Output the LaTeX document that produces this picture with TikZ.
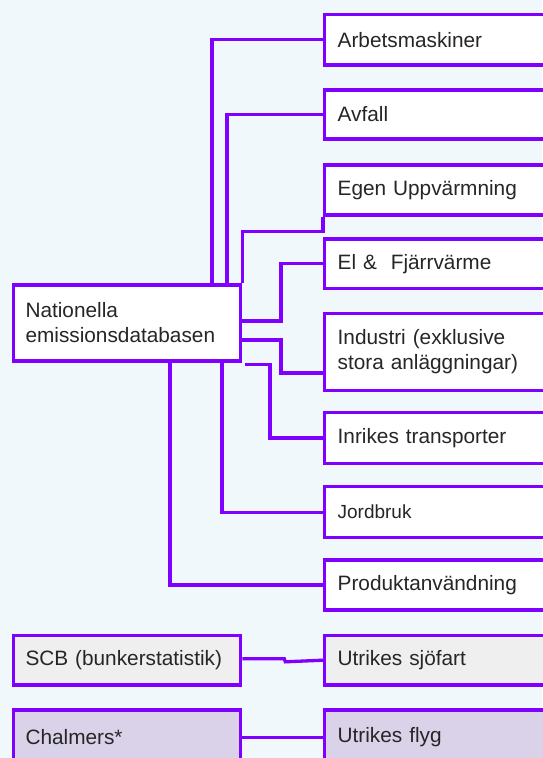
\documentclass[tikz,border=0pt]{standalone}
\usepackage{fontspec}
\setmainfont{Liberation Sans}
\definecolor{bg}{HTML}{F0F8FB}
\definecolor{vio}{HTML}{8000FF}
\definecolor{lgray}{HTML}{EFEFEF}
\definecolor{lpurple}{HTML}{D9D2E9}
\definecolor{txt}{HTML}{262626}
\begin{document}
\begin{tikzpicture}[x=1pt,y=-1pt,
  box/.style={draw=vio, line width=3.3pt, fill=white, rectangle, anchor=north west,
    inner xsep=12pt, inner ysep=0pt, align=left, text=txt,
    font=\fontsize{20.8}{25}\selectfont},
  rbox/.style={box, minimum width=260pt, text width=234pt, minimum height=#1},
  lbox/.style={box, minimum width=227.3pt, text width=203pt, minimum height=#1},
  con/.style={draw=vio, line width=3.3pt}]
\fill[bg] (0,0) rectangle (542,758);
\useasboundingbox (0,0) rectangle (542,758);
% nodes
\node[rbox=50.6pt] (arb) at (323,12.7) {Arbetsmaskiner};
\node[rbox=49pt] (avf) at (323,88.3) {Avfall};
\node[rbox=50pt] (egen) at (323,163.3) {Egen Uppvärmning};
\node[rbox=49.4pt] (el) at (323,237.3) {El \& \ Fjärrvärme};
\node[rbox=77.3pt] (ind) at (323,311.7) {Industri (exklusive\\stora anläggningar)};
\node[rbox=51.3pt] (inr) at (323,410.7) {Inrikes transporter};
\node[rbox=51pt, font=\fontsize{19}{23}\selectfont] (jord) at (323,485) {Jordbruk};
\node[rbox=50pt] (prod) at (323,558.3) {Produktanvändning};
\node[rbox=49.3pt, fill=lgray] (sjo) at (323,634) {Utrikes sjöfart};
\node[rbox=55pt, fill=lpurple] (fly) at (323,708.3) {Utrikes flyg};
\node[lbox=76pt] (nat) at (11.7,283.3) {Nationella\\emissionsdatabasen};
\node[lbox=49.3pt, fill=lgray] (scb) at (11.7,634) {SCB (bunkerstatistik)};
\node[lbox=55pt, fill=lpurple] (chal) at (11.7,708.3) {Chalmers*};
% connectors
\draw[con] (arb.west) -| (212,0 |- nat.north);
\draw[con] (avf.west) -| (227,0 |- nat.north);
\draw[con] (egen.south west) -- ++(0,15) -| (nat.north east);
\draw[con] (el.west) -| (281,321) -- (nat.east |- 0,321);
\draw[con] (nat.east |- 0,340) -| (281,373) -- (ind.west |- 0,373);
\draw[con] (nat.south east) ++(3,1.7) -| (270,0 |- inr.west) -- (inr.west);
\draw[con] (222,0 |- nat.south) |- (jord.west);
\draw[con] (170,0 |- nat.south) |- (prod.west);
\draw[con] (scb.east) ++(0,-1.5) -- ++(42,0) -- ++(1,3) -- (sjo.west |- 0,660.2);
\draw[con] (chal.east) -- (fly.west);
\end{tikzpicture}
\end{document}
